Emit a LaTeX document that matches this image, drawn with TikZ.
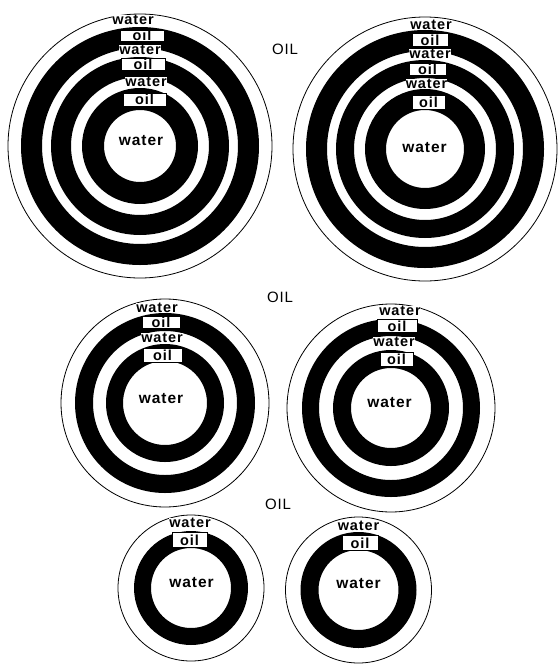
\documentclass[tikz,border=0pt]{standalone}
\usepackage{fontspec}
\setmainfont{Liberation Sans}
\newfontfamily\lblfont[LetterSpace=6]{Liberation Sans}
\newfontfamily\oilfont[LetterSpace=6]{Liberation Sans}
\begin{document}
\begin{tikzpicture}[x=1pt,y=-1pt,
  outerc/.style={draw=black,line width=0.8pt,fill=white},
  band/.style={fill=black,even odd rule},
  wlbl/.style={font=\lblfont\bfseries\fontsize{14.5}{15}\selectfont,inner sep=0pt,fill=white},
  clbl/.style={font=\lblfont\bfseries\fontsize{15.5}{16}\selectfont,inner sep=0pt},
  oilbox/.style={draw=black,line width=0.6pt,fill=white,inner sep=0pt,
     font=\lblfont\bfseries\fontsize{14.5}{15}\selectfont},
  oillbl/.style={font=\oilfont\fontsize{15}{15}\selectfont,inner sep=0pt}]
\useasboundingbox (0,0) rectangle (557,664);
% ---------- top left ----------
\draw[outerc] (140,146) circle[radius=132pt];
\fill[band] (140,146) circle[radius=119pt] (140,146) circle[radius=98pt];
\fill[band] (140,146) circle[radius=89pt] (140,146) circle[radius=69pt];
\fill[band] (140,146) circle[radius=58pt] (140,146) circle[radius=36pt];
\node[wlbl] (a1) at (133,19.5) {water};
\node[oilbox,minimum width=44pt,minimum height=11pt] (a2) at (142,35.5) {oil};
\node[wlbl] (a3) at (140,49.5) {water};
\node[oilbox,minimum width=44pt,minimum height=12pt] (a4) at (143,64.5) {oil};
\node[wlbl] (a5) at (146,81.5) {water};
\node[oilbox,minimum width=43pt,minimum height=13pt] (a6) at (144.5,99.5) {oil};
\node[clbl] (a7) at (141,140.5) {water};
% ---------- top right ----------
\draw[outerc] (425,149) circle[radius=132pt];
\fill[band] (425,149) circle[radius=119pt] (425,149) circle[radius=98pt];
\fill[band] (425,149) circle[radius=89pt] (425,149) circle[radius=71pt];
\fill[band] (425,149) circle[radius=60pt] (425,149) circle[radius=39pt];
\node[wlbl] (b1) at (431,25) {water};
\node[oilbox,line width=1pt,minimum width=36pt,minimum height=13pt] (b2) at (430,40) {oil};
\node[wlbl] (b3) at (430,54) {water};
\node[oilbox,line width=1pt,minimum width=37pt,minimum height=12pt] (b4) at (427.5,69.5) {oil};
\node[wlbl] (b5) at (426.5,84) {water};
\node[oilbox,line width=1pt,minimum width=33pt,minimum height=14pt] (b6) at (428.5,102.5) {oil};
\node[clbl] (b7) at (424.5,147.5) {water};
% ---------- middle left ----------
\draw[outerc] (165,403) circle[radius=104pt];
\fill[band] (165,403) circle[radius=90pt] (165,403) circle[radius=72pt];
\fill[band] (165,403) circle[radius=59pt] (165,403) circle[radius=42pt];
\node[wlbl] (c1) at (157,308) {water};
\node[oilbox,minimum width=38pt,minimum height=12pt] (c2) at (161,322) {oil};
\node[wlbl] (c3) at (162,338) {water};
\node[oilbox,minimum width=39pt,minimum height=14pt] (c4) at (162.5,355.5) {oil};
\node[clbl] (c5) at (161,398.5) {water};
% ---------- middle right ----------
\draw[outerc] (391,408) circle[radius=104pt];
\fill[band] (391,408) circle[radius=89pt] (391,408) circle[radius=72pt];
\fill[band] (391,408) circle[radius=58pt] (391,408) circle[radius=40pt];
\node[wlbl] (d1) at (400,311) {water};
\node[oilbox,line width=1pt,minimum width=40pt,minimum height=13pt] (d2) at (397,326) {oil};
\node[wlbl] (d3) at (394,341.5) {water};
\node[oilbox,line width=1pt,minimum width=33pt,minimum height=14pt] (d4) at (396.5,359.5) {oil};
\node[clbl] (d5) at (389.5,402.5) {water};
% ---------- bottom left ----------
\draw[outerc] (191,588) circle[radius=73pt];
\fill[band] (191,588) circle[radius=57pt] (191,588) circle[radius=40pt];
\node[wlbl] (e1) at (190,522.5) {water};
\node[oilbox,minimum width=35pt,minimum height=15pt] (e2) at (189.5,540) {oil};
\node[clbl] (e3) at (191.5,582.5) {water};
% ---------- bottom right ----------
\draw[outerc] (358.5,590) circle[radius=73pt];
\fill[band] (358.5,590) circle[radius=58pt] (358.5,590) circle[radius=40pt];
\node[wlbl] (f1) at (358.5,526) {water};
\node[oilbox,line width=1pt,minimum width=36pt,minimum height=15pt] (f2) at (360,543) {oil};
\node[clbl] (f3) at (358.5,584) {water};
% ---------- OIL labels ----------
\node[oillbl] (g1) at (285,49) {OIL};
\node[oillbl] (g2) at (280,297.5) {OIL};
\node[oillbl] (g3) at (278,504) {OIL};
\end{tikzpicture}
\end{document}
